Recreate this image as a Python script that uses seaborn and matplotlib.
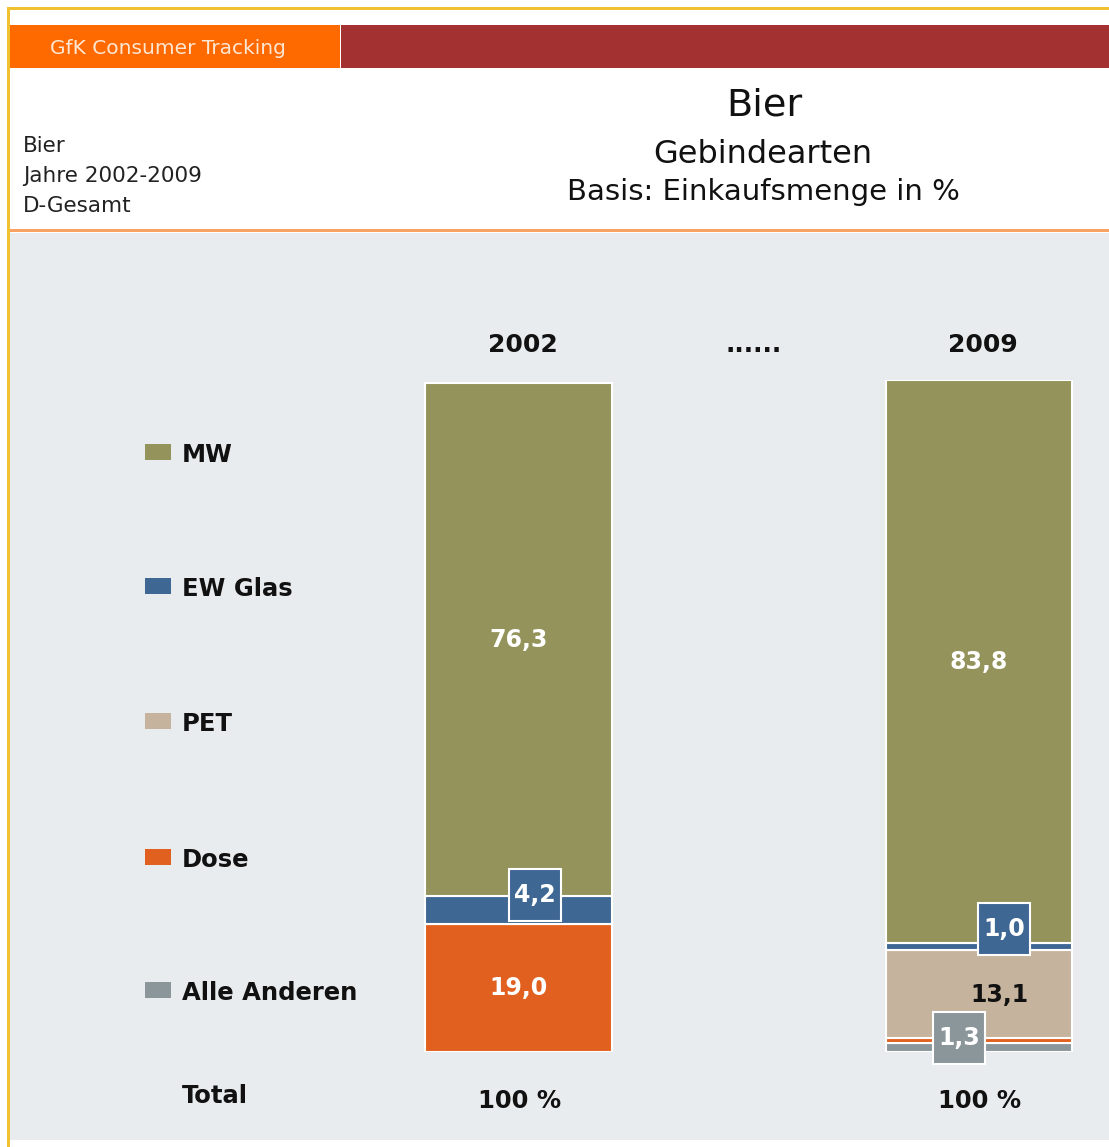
import seaborn as sns
import matplotlib.pyplot as plt
import pandas as pd
from matplotlib.patches import Rectangle
from matplotlib.transforms import ScaledTranslation

# data (shares in %)
years = ['2002', '2009']
segments = ['Alle Anderen', 'Dose', 'PET', 'EW Glas', 'MW']   # bottom -> top
legend_order = ['MW', 'EW Glas', 'PET', 'Dose', 'Alle Anderen']
mw = [76.3, 83.8]
ew_glas = [4.2, 1.0]
pet = [0.0, 13.1]
dose = [19.0, 0.8]
alle_anderen = [0.0, 1.3]
totals = ['100 %', '100 %']

colors = {
    'MW': '#93935b',
    'EW Glas': '#3f6794',
    'PET': '#c5b39d',
    'Dose': '#e2601f',
    'Alle Anderen': '#8b969b',
}

# how each value is labelled: (kind, dx px, dy px)
label_style = {
    ('2002', 'MW'): ('white', 0, 0),
    ('2002', 'EW Glas'): ('box', 16, -15),
    ('2002', 'Dose'): ('white', 0, 0),
    ('2009', 'MW'): ('white', 0, 0),
    ('2009', 'EW Glas'): ('box', 25, -17),
    ('2009', 'PET'): ('black', 20, 1),
    ('2009', 'Alle Anderen'): ('box', -20, -10),
}

df = pd.DataFrame({'Jahr': years, 'MW': mw, 'EW Glas': ew_glas, 'PET': pet,
                   'Dose': dose, 'Alle Anderen': alle_anderen})
bottoms = df[segments].cumsum(axis=1) - df[segments]

W, H = 1109, 1147
sns.set_style('white')
plt.rcParams['font.family'] = ['DejaVu Sans']
fig = plt.figure(figsize=(W / 100, H / 100), dpi=100)
fig.patch.set_facecolor('white')


def fx(x):
    return x / W


def fy(y):
    return 1 - y / H


def frect(x0, y0, x1, y1, color, z=0):
    fig.patches.append(Rectangle((fx(x0), fy(y1)), fx(x1) - fx(x0), fy(y0) - fy(y1),
                                 transform=fig.transFigure, color=color, lw=0, zorder=z))


# page furniture
frect(8, 7, W, 10, '#f0c231')
frect(7, 7, 10, H, '#f0c231')
frect(10, 25, 340, 68, '#ff6a00')
frect(341, 25, W, 68, '#a33131')
frect(10, 229, W, 232, '#f9a262')
frect(10, 233, W, 1140, '#e9ecee')

fig.text(fx(168), fy(48), 'GfK Consumer Tracking', color='#fde6d2', fontsize=14.5,
         ha='center', va='center')
fig.text(fx(764), fy(115), 'Bier', fontsize=27.5, ha='center', va='baseline', color='#111111')
fig.text(fx(763), fy(163), 'Gebindearten', fontsize=23, ha='center', va='baseline', color='#111111')
fig.text(fx(763), fy(200), 'Basis: Einkaufsmenge in %', fontsize=21, ha='center',
         va='baseline', color='#111111')
for k, line in enumerate(['Bier', 'Jahre 2002-2009', 'D-Gesamt']):
    fig.text(fx(23), fy(152 + 30 * k), line, fontsize=15.5, va='baseline', color='#222222')

# legend
legend_y = {'MW': 452, 'EW Glas': 586, 'PET': 721, 'Dose': 857, 'Alle Anderen': 990}
for seg in legend_order:
    yc = legend_y[seg]
    frect(145, yc - 8, 171, yc + 8, colors[seg], z=2)
    fig.text(fx(182), fy(yc + 10), seg, fontsize=17.5, fontweight='bold',
             va='baseline', color='#111111')
fig.text(fx(182), fy(1103), 'Total', fontsize=17.5, fontweight='bold', va='baseline',
         color='#111111')

# bars
ax = fig.add_axes([0, fy(1052), 1, 672 / H])
ax.set_zorder(5)
ax.patch.set_visible(False)
for seg in segments:
    sns.barplot(data=df, x='Jahr', y=seg, order=years, color=colors[seg],
                bottom=bottoms[seg].values, width=0.405, saturation=1,
                edgecolor='white', linewidth=1.5, errorbar=None, ax=ax)

ax.set_xlim(-518.5 / 460.5, (W - 518.5) / 460.5)
ax.set_ylim(0, 100)
ax.set_axis_off()


def shift(dx, dy):
    return ax.transData + ScaledTranslation(dx / 100, -dy / 100, fig.dpi_scale_trans)


for i, year in enumerate(years):
    for seg in segments:
        style = label_style.get((year, seg))
        if style is None:
            continue
        kind, dx, dy = style
        value = df.loc[i, seg]
        yc = bottoms.loc[i, seg] + value / 2
        txt = f'{value:.1f}'.replace('.', ',')
        tr = shift(dx, dy)
        if kind == 'box':
            ax.plot([i], [yc], marker='s', ms=38, mfc=colors[seg], mec='white', mew=1.5,
                    transform=tr, zorder=5, clip_on=False)
            ax.text(i, yc, txt, transform=tr, color='white', fontsize=17, fontweight='bold',
                    ha='center', va='center', zorder=6)
        else:
            ax.text(i, yc, txt, transform=tr, color='white' if kind == 'white' else '#111111',
                    fontsize=17, fontweight='bold', ha='center', va='center', zorder=6)
    ax.text(i, 100, year, transform=shift(4, -28), fontsize=18, fontweight='bold',
            ha='center', va='baseline', color='#111111')
    ax.text(i, 0, totals[i], transform=shift(1, 56), fontsize=17.5, fontweight='bold',
            ha='center', va='baseline', color='#111111')

ax.text(0.51, 100, '......', transform=shift(0, -28), fontsize=18, fontweight='bold',
        ha='center', va='baseline', color='#111111')

fig.savefig('out.png', dpi=100)
